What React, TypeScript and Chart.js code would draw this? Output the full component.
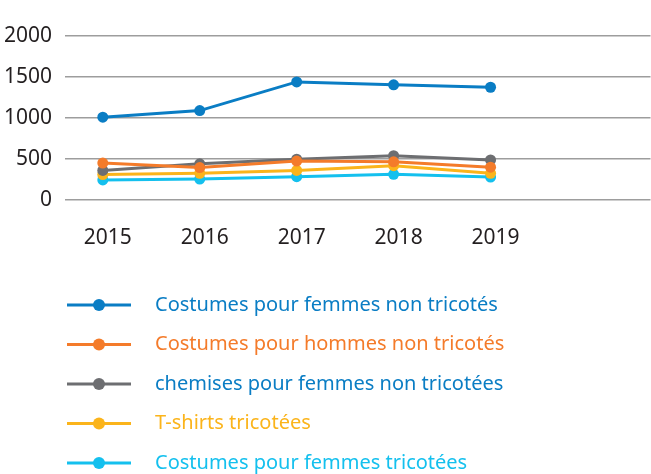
import React, { useEffect, useRef } from "react";
import { Chart, registerables } from "chart.js";

Chart.register(...registerables);

const years = [2015, 2016, 2017, 2018, 2019];
const yTicks = [0, 500, 1000, 1500, 2000];

const seriesLabels = [
  "Costumes pour femmes non tricotés",
  "Costumes pour hommes non tricotés",
  "chemises pour femmes non tricotées",
  "T-shirts tricotées",
  "Costumes pour femmes tricotées",
];
const femmesNonTricotes = [1010, 1090, 1440, 1405, 1375];
const hommesNonTricotes = [450, 395, 475, 465, 400];
const chemisesFemmes = [360, 441, 498, 540, 488];
const tshirtsTricotees = [311, 325, 360, 418, 325];
const femmesTricotees = [245, 255, 285, 313, 280];

const seriesColors = ["#0a7dc4", "#f47b2a", "#6d6e71", "#fbb41b", "#14c0ee"];
const legendTextColors = ["#0a7dc4", "#f47b2a", "#0a7dc4", "#fbb41b", "#14c0ee"];

const FONT = "'Noto Sans', sans-serif";

const legendPlugin = {
  id: "customLegend",
  afterDraw(chart: any) {
    const ctx = chart.ctx;
    const top = chart.chartArea.bottom + 105;
    const step = 39.5;
    ctx.save();
    chart.data.datasets.forEach((ds: any, i: number) => {
      const y = top + i * step;
      ctx.strokeStyle = ds.borderColor;
      ctx.lineWidth = 3;
      ctx.beginPath();
      ctx.moveTo(67, y);
      ctx.lineTo(131, y);
      ctx.stroke();
      ctx.fillStyle = ds.borderColor;
      ctx.beginPath();
      ctx.arc(99, y, 6, 0, Math.PI * 2);
      ctx.fill();
      ctx.fillStyle = legendTextColors[i];
      ctx.font = "20px " + FONT;
      ctx.textBaseline = "middle";
      ctx.textAlign = "left";
      ctx.fillText(ds.label, 155, y);
    });
    ctx.restore();
  },
};

export default function App() {
  const ref = useRef<HTMLCanvasElement>(null);
  useEffect(() => {
    if (!ref.current) return;
    const allSeries = [
      femmesNonTricotes,
      hommesNonTricotes,
      chemisesFemmes,
      tshirtsTricotees,
      femmesTricotees,
    ];
    const chart = new Chart(ref.current, {
      type: "line",
      data: {
        datasets: allSeries.map((vals, i) => ({
          label: seriesLabels[i],
          data: years.map((yr, j) => ({ x: yr, y: vals[j] })),
          borderColor: seriesColors[i],
          backgroundColor: seriesColors[i],
          borderWidth: 3,
          pointRadius: 5.5,
          pointBorderWidth: 0,
          tension: 0,
        })),
      },
      options: {
        animation: false,
        responsive: false,
        layout: { padding: { top: 36, right: 0, left: 0, bottom: 0 } },
        plugins: { legend: { display: false }, tooltip: { enabled: false } },
        scales: {
          x: {
            type: "linear",
            min: 2014.61,
            max: 2020.65,
            afterBuildTicks: (s: any) => {
              s.ticks = years.map((v) => ({ value: v }));
            },
            afterFit: (s: any) => {
              s.height = 274;
            },
            grid: { display: false, drawTicks: false },
            border: { display: false },
            ticks: {
              padding: 25,
              labelOffset: 5,
              color: "#231f20",
              font: { family: FONT, size: 21 },
              callback: (v: any) => String(v),
              maxRotation: 0,
            },
          },
          y: {
            min: 0,
            max: 2000,
            afterBuildTicks: (s: any) => {
              s.ticks = yTicks.map((v) => ({ value: v }));
            },
            afterFit: (s: any) => {
              s.width = 65;
            },
            grid: { color: "#9d9d9d", lineWidth: 1.5, drawTicks: false },
            border: { display: false },
            ticks: {
              padding: 13,
              color: "#231f20",
              font: { family: FONT, size: 21 },
              callback: (v: any) => String(v),
            },
          },
        },
      },
      plugins: [legendPlugin],
    });
    return () => chart.destroy();
  }, []);
  return (
    <div
      style={{
        position: "absolute",
        left: 0,
        top: 0,
        width: 651,
        height: 474,
        overflow: "hidden",
        background: "#fff",
      }}
    >
      <canvas ref={ref} width={656} height={474} />
    </div>
  );
}
